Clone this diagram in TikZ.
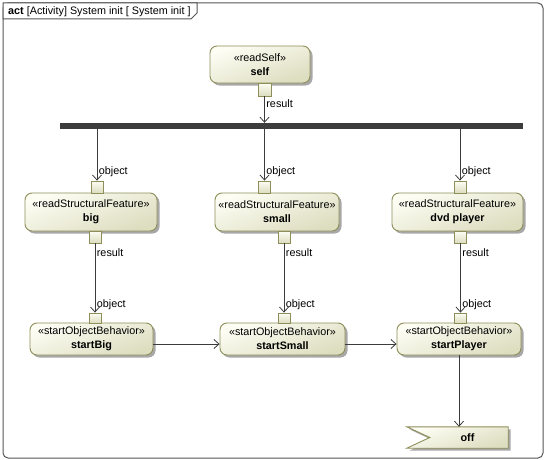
\documentclass[tikz,border=0pt]{standalone}
\usepackage{fontspec}
\setmainfont{Liberation Sans}
\usetikzlibrary{arrows.meta,shadows,calc}
\definecolor{bord}{HTML}{8E8E5A}
\definecolor{fillA}{HTML}{FDFDF4}
\definecolor{fillB}{HTML}{DDDDC0}
\definecolor{ln}{HTML}{3C3C3C}
\definecolor{shad}{HTML}{A8A8A8}
\definecolor{framec}{HTML}{555555}
\newcommand{\fs}{\fontsize{10.8}{13}\selectfont}
\begin{document}
\begin{tikzpicture}[x=1pt,y=-1pt,
  actbox/.style={draw=bord, line width=0.9pt, rounded corners=7pt,
    top color=fillA, bottom color=fillB, shading angle=20,
    drop shadow={shadow xshift=2.5pt, shadow yshift=-2.5pt, fill=shad, opacity=1},
    minimum height=38pt, inner sep=0pt, align=center, font=\fs},
  startbox/.style={actbox, minimum height=32pt},
  pinbox/.style={draw=bord, line width=0.8pt, top color=fillA, bottom color=fillB,
    minimum width=12pt, minimum height=12pt, inner sep=0pt},
  spin/.style={pinbox, minimum height=10pt},
  flow/.style={draw=ln, line width=0.8pt, -{Straight Barb[length=5pt,width=9pt,line width=0.8pt]}},
  lab/.style={font=\fs, inner sep=1.5pt, right}
]
\useasboundingbox (0,0) rectangle (546,460);
% frame
\draw[framec, line width=1pt, rounded corners=5pt] (3,3) rectangle (543,458);
\draw[framec, line width=1pt, fill=white] (3,3) -- (197,3) -- (197,13) -- (191,19) -- (3,19) -- cycle;
\node[anchor=base west, font=\fs, inner sep=0pt] (title) at (8,15) {\textbf{act} [Activity] System init [ System init ]};

% fork bar
\node[fill=ln, minimum width=463pt, minimum height=6pt, inner sep=0pt] (bar) at (291.5,126) {};

% read self
\node[actbox, minimum width=100pt, minimum height=37pt] (self) at (260,64.5) {«readSelf»\\[1pt]\textbf{self}};
\node[pinbox, minimum width=13pt, minimum height=13pt] (pSelf) at (264.5,89.5) {};

% read structural features
\node[actbox, minimum width=132pt] (big) at (91,212) {«readStructuralFeature»\\[1pt]\textbf{big}};
\node[actbox, minimum width=124pt] (small) at (277,212) {«readStructuralFeature»\\[1pt]\textbf{small}};
\node[actbox, minimum width=131pt] (dvd) at (457.5,212) {«readStructuralFeature»\\[1pt]\textbf{dvd player}};

\node[pinbox] (pBigT) at (97,187) {};
\node[pinbox] (pBigB) at (95,237) {};
\node[pinbox] (pSmallT) at (264.5,187) {};
\node[pinbox] (pSmallB) at (284,237) {};
\node[pinbox] (pDvdT) at (460,187) {};
\node[pinbox] (pDvdB) at (460.5,237) {};

% start object behaviors
\node[startbox, minimum width=123pt] (sBig) at (91.5,339) {«startObjectBehavior»\\[1pt]\textbf{startBig}};
\node[startbox, minimum width=125pt] (sSmall) at (282.5,339) {«startObjectBehavior»\\[1pt]\textbf{startSmall}};
\node[startbox, minimum width=124pt] (sPlayer) at (459,339) {«startObjectBehavior»\\[1pt]\textbf{startPlayer}};

\node[spin] (pSBig) at (95,318) {};
\node[spin] (pSSmall) at (284,318) {};
\node[spin] (pSPlayer) at (460.5,318) {};

% accept event
\node[minimum width=101pt, minimum height=21pt, inner sep=0pt] (off) at (457.5,437.5) {};
\fill[shad] ([xshift=2.5pt,yshift=-2.5pt]off.north west) -- ([xshift=2.5pt,yshift=-2.5pt]off.north east)
  -- ([xshift=2.5pt,yshift=-2.5pt]off.south east) -- ([xshift=2.5pt,yshift=-2.5pt]off.south west)
  -- ([xshift=25.5pt,yshift=-2.5pt]off.west) -- cycle;
\path[draw=bord, line width=0.9pt, top color=fillA, bottom color=fillB, shading angle=20]
  (off.north west) -- (off.north east) -- (off.south east) -- (off.south west) -- ([xshift=23pt]off.west) -- cycle;
\node[font=\fs, inner sep=0pt] (offtext) at ([xshift=10pt]off.center) {\textbf{off}};

% flows
\draw[flow] (pSelf.south) -- node[lab, pos=0.28]{result} (pSelf.south |- bar.north);
\draw[flow] (pBigT.north |- bar.south) -- node[lab, pos=0.83]{object} (pBigT.north);
\draw[flow] (pSmallT.north |- bar.south) -- node[lab, pos=0.83]{object} (pSmallT.north);
\draw[flow] (pDvdT.north |- bar.south) -- node[lab, pos=0.83]{object} (pDvdT.north);

\draw[flow] (pBigB.south) -- node[lab, pos=0.13]{result} node[lab, pos=0.88]{object} (pSBig.north);
\draw[flow] (pSmallB.south) -- node[lab, pos=0.13]{result} node[lab, pos=0.88]{object} (pSSmall.north);
\draw[flow] (pDvdB.south) -- node[lab, pos=0.13]{result} node[lab, pos=0.88]{object} (pSPlayer.north);

\draw[flow] ([yshift=-5pt]sBig.east) -- ([yshift=-5pt]sSmall.west);
\draw[flow] ([yshift=-5pt]sSmall.east) -- ([yshift=-5pt]sPlayer.west);
\draw[flow] (sPlayer.south) -- (sPlayer.south |- off.north);
\end{tikzpicture}
\end{document}
